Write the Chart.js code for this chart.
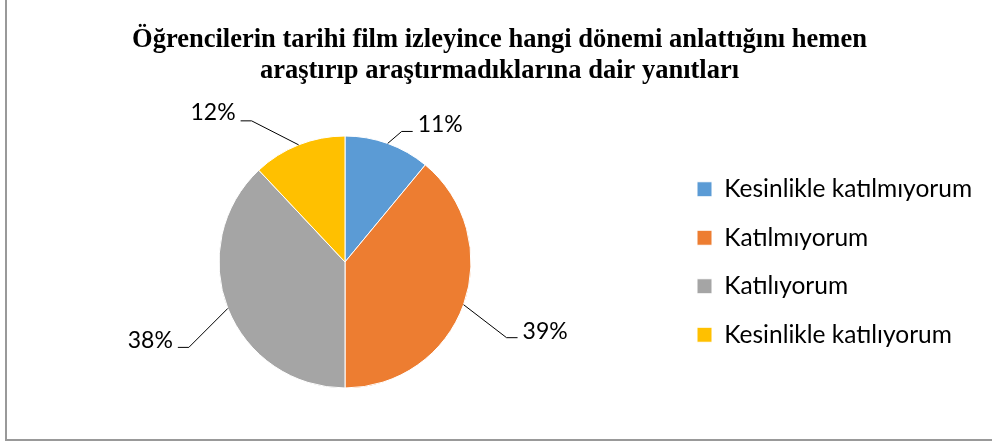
<!DOCTYPE html>
<html><head><meta charset="utf-8">
<script src="https://cdn.jsdelivr.net/npm/chart.js@4.4.1/dist/chart.umd.min.js"></script>
<style>
html,body{margin:0;padding:0;background:#fff;overflow:hidden;width:992px;height:445px;}
#frame{position:absolute;left:5px;top:-10px;width:1100px;height:451px;border:2px solid #999;box-sizing:border-box;}
#wrap{position:absolute;left:0;top:0;width:992px;height:445px;}
</style></head><body>
<div id="frame"></div>
<div id="wrap"><canvas id="c" width="992" height="445"></canvas></div>
<script>
const titleLines = ['Öğrencilerin tarihi film izleyince hangi dönemi anlattığını hemen', 'araştırıp araştırmadıklarına dair yanıtları'];
const categories = ['Kesinlikle katılmıyorum', 'Katılmıyorum', 'Katılıyorum', 'Kesinlikle katılıyorum'];
const percentages = [11, 39, 38, 12];
const sliceColors = ['#5B9BD5', '#ED7D31', '#A5A5A5', '#FFC000'];

const legendFontSize = 24.5;
const legendFont = 'Lato';
const legendPad = 24;
const boxW = 15;
const legendLeft = 673;   // canvas x of legend block
const pieCenterX = 345;

// measure the widest legend label to size the legend block
const mctx = document.createElement('canvas').getContext('2d');
mctx.font = legendFontSize + 'px ' + legendFont;
const maxTextW = Math.max(...categories.map(t => mctx.measureText(t).width));
const legendW = legendPad + boxW + legendFontSize / 2 + maxTextW + 10;
const padRight = 992 - legendLeft - legendW;
const padLeft = 2 * pieCenterX - legendLeft;

const leaderPlugin = {
  id: 'leaders',
  afterDatasetsDraw(chart, args, opts) {
    const ctx = chart.ctx;
    const meta = chart.getDatasetMeta(0);
    meta.data.forEach((arc, i) => {
      const p = arc.getProps(['x', 'y', 'startAngle', 'endAngle', 'outerRadius'], true);
      const mid = (p.startAngle + p.endAngle) / 2;
      const ex = p.x + Math.cos(mid) * p.outerRadius;
      const ey = p.y + Math.sin(mid) * p.outerRadius;
      const [dx, dy] = opts.elbows[i];
      const bx = ex + dx, by = ey + dy;
      const right = Math.cos(mid) >= 0;
      const hx = bx + (right ? opts.tail : -opts.tail);
      ctx.save();
      ctx.strokeStyle = '#000';
      ctx.lineWidth = 1;
      ctx.beginPath();
      ctx.moveTo(ex, ey);
      ctx.lineTo(bx, by);
      ctx.lineTo(hx, by);
      ctx.stroke();
      ctx.font = opts.fontSize + 'px Lato';
      ctx.fillStyle = '#000';
      ctx.textBaseline = 'alphabetic';
      ctx.textAlign = right ? 'left' : 'right';
      ctx.fillText(chart.data.datasets[0].data[i] + '%', hx + (right ? opts.gap : -opts.gap), by + opts.baseline[i]);
      ctx.restore();
    });
  }
};

new Chart(document.getElementById('c'), {
  type: 'pie',
  data: {
    labels: categories,
    datasets: [{
      data: percentages,
      backgroundColor: sliceColors,
      borderColor: '#ffffff',
      borderWidth: 1
    }]
  },
  plugins: [leaderPlugin],
  options: {
    responsive: false,
    animation: false,
    events: [],
    layout: { padding: { left: padLeft, right: padRight, top: 0, bottom: 56.5 } },
    plugins: {
      tooltip: { enabled: false },
      title: {
        display: true,
        text: titleLines,
        color: '#000',
        font: { family: 'Liberation Serif', size: 26.5, weight: 'bold', lineHeight: 31 / 26.5 },
        padding: { top: 24.5, bottom: 49 }
      },
      legend: {
        position: 'right',
        align: 'center',
        fullSize: false,
        labels: {
          boxWidth: boxW,
          boxHeight: boxW,
          padding: legendPad,
          color: '#000',
          font: { family: legendFont, size: legendFontSize }
        }
      },
      leaders: {
        elbows: [[14, -12], [43, 33], [-39, 39], [-47, -24]],
        baseline: [1, 1, 1, -1],
        tail: 11,
        gap: 5,
        fontSize: 23
      }
    }
  }
});
</script>
</body></html>
